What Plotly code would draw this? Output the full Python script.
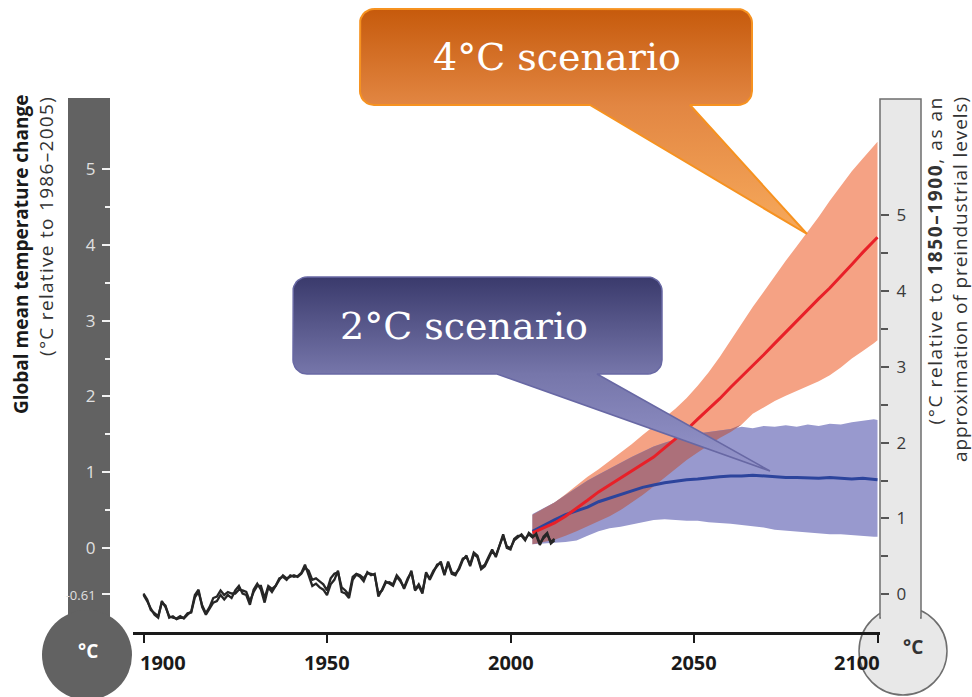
import numpy as np
import plotly.graph_objects as go

W, H = 972, 697

# ---------------- data ----------------
obs_years = list(range(1900, 2013))
obs_a = [-0.62, -0.70, -0.80, -0.88, -0.92, -0.70, -0.78, -0.90, -0.92, -0.93,
         -0.90, -0.93, -0.88, -0.84, -0.62, -0.55, -0.78, -0.88, -0.80, -0.72,
         -0.70, -0.62, -0.68, -0.62, -0.66, -0.56, -0.50, -0.60, -0.62, -0.75,
         -0.55, -0.47, -0.55, -0.72, -0.52, -0.58, -0.50, -0.40, -0.38, -0.42,
         -0.36, -0.38, -0.37, -0.33, -0.22, -0.35, -0.50, -0.47, -0.52, -0.55,
         -0.62, -0.48, -0.42, -0.30, -0.58, -0.60, -0.66, -0.42, -0.35, -0.38,
         -0.44, -0.32, -0.36, -0.34, -0.64, -0.55, -0.44, -0.47, -0.50, -0.38,
         -0.44, -0.52, -0.40, -0.32, -0.55, -0.48, -0.58, -0.34, -0.40, -0.30,
         -0.24, -0.18, -0.34, -0.20, -0.34, -0.36, -0.26, -0.14, -0.12, -0.22,
         -0.06, -0.10, -0.26, -0.22, -0.12, -0.02, -0.12, 0.04, 0.18, 0.00,
         -0.02, 0.12, 0.16, 0.16, 0.10, 0.20, 0.16, 0.17, 0.04, 0.15,
         0.20, 0.06, 0.10]
obs_b = [-0.60, -0.68, -0.82, -0.86, -0.90, -0.72, -0.76, -0.92, -0.90, -0.94,
         -0.92, -0.92, -0.86, -0.85, -0.65, -0.58, -0.76, -0.86, -0.78, -0.66,
         -0.64, -0.56, -0.62, -0.58, -0.60, -0.60, -0.55, -0.56, -0.58, -0.70,
         -0.58, -0.50, -0.50, -0.66, -0.50, -0.54, -0.50, -0.42, -0.36, -0.40,
         -0.38, -0.36, -0.38, -0.34, -0.26, -0.30, -0.42, -0.40, -0.44, -0.48,
         -0.56, -0.40, -0.34, -0.32, -0.52, -0.56, -0.62, -0.38, -0.34, -0.36,
         -0.40, -0.33, -0.34, -0.36, -0.60, -0.56, -0.46, -0.45, -0.48, -0.36,
         -0.42, -0.54, -0.42, -0.30, -0.56, -0.50, -0.60, -0.32, -0.42, -0.32,
         -0.22, -0.20, -0.36, -0.18, -0.32, -0.34, -0.28, -0.16, -0.10, -0.24,
         -0.08, -0.12, -0.28, -0.24, -0.14, -0.04, -0.10, 0.02, 0.16, 0.02,
         0.00, 0.10, 0.14, 0.18, 0.12, 0.18, 0.14, 0.19, 0.06, 0.13,
         0.18, 0.08, 0.12]

proj_years = [2006, 2009, 2012, 2015, 2018, 2021, 2024, 2027, 2030, 2033, 2036,
              2039, 2042, 2045, 2048, 2051, 2054, 2057, 2060, 2063, 2066, 2069,
              2072, 2075, 2078, 2081, 2084, 2087, 2090, 2093, 2096, 2099, 2100]

rcp85_mean = [0.20, 0.27, 0.33, 0.42, 0.52, 0.63, 0.74, 0.83, 0.92, 1.01, 1.10,
              1.20, 1.32, 1.44, 1.56, 1.70, 1.83, 1.97, 2.12, 2.26, 2.40, 2.55,
              2.70, 2.85, 3.00, 3.14, 3.29, 3.43, 3.58, 3.74, 3.90, 4.06, 4.10]
rcp85_high = [0.44, 0.52, 0.60, 0.71, 0.83, 0.94, 1.04, 1.15, 1.25, 1.37, 1.49,
              1.60, 1.72, 1.84, 1.98, 2.14, 2.32, 2.52, 2.74, 2.96, 3.18, 3.38,
              3.59, 3.79, 3.98, 4.17, 4.37, 4.58, 4.77, 4.97, 5.14, 5.30, 5.36]
rcp85_low = [0.05, 0.08, 0.11, 0.16, 0.22, 0.28, 0.35, 0.42, 0.50, 0.60, 0.70,
             0.81, 0.92, 1.04, 1.16, 1.26, 1.36, 1.45, 1.53, 1.63, 1.77, 1.86,
             1.94, 2.01, 2.08, 2.14, 2.20, 2.28, 2.38, 2.50, 2.60, 2.70, 2.74]

rcp26_mean = [0.22, 0.30, 0.37, 0.44, 0.49, 0.54, 0.61, 0.66, 0.71, 0.75, 0.80,
              0.83, 0.86, 0.88, 0.90, 0.91, 0.93, 0.94, 0.95, 0.95, 0.96, 0.95,
              0.94, 0.93, 0.93, 0.92, 0.92, 0.93, 0.92, 0.91, 0.92, 0.91, 0.90]
rcp26_high = [0.45, 0.53, 0.60, 0.70, 0.80, 0.89, 0.97, 1.05, 1.12, 1.20, 1.27,
              1.34, 1.39, 1.44, 1.48, 1.51, 1.53, 1.55, 1.57, 1.60, 1.58, 1.61,
              1.60, 1.62, 1.60, 1.63, 1.61, 1.64, 1.63, 1.66, 1.68, 1.70, 1.69]
rcp26_low = [0.05, 0.06, 0.07, 0.08, 0.10, 0.16, 0.22, 0.26, 0.28, 0.31, 0.34,
             0.37, 0.38, 0.37, 0.36, 0.36, 0.34, 0.33, 0.32, 0.30, 0.29, 0.27,
             0.24, 0.22, 0.21, 0.20, 0.19, 0.18, 0.18, 0.17, 0.16, 0.15, 0.15]

x_ticks = [1900, 1950, 2000, 2050, 2100]
left_ticks = [5, 4, 3, 2, 1, 0, -0.61]
left_minor = [4.5, 3.5, 2.5, 1.5, 0.5]
right_ticks = [0, 1, 2, 3, 4, 5]
right_minor = [0.5, 1.5, 2.5, 3.5, 4.5]
preind_offset = 0.61

# ---------------- layout geometry (pixels) ----------------
PX0, PX1 = 133, 880          # plot area left/right
PY_TOP, PY_BOT = 97, 632     # plot area top/bottom
px_per_year = 3.67
x1900 = 143.5
px_per_deg = 75.8
y_zero = 548

x_range = [1900 - (x1900 - PX0) / px_per_year, 1900 + (PX1 - x1900) / px_per_year]
y_range = [(y_zero - PY_BOT) / px_per_deg, (y_zero - PY_TOP) / px_per_deg]


def fx(px):
    return px / W


def fy(py):
    return 1 - py / H


fig = go.Figure()

# ---------------- projection bands ----------------
py = np.array(proj_years, dtype=float)
r_hi, r_lo = np.array(rcp85_high), np.array(rcp85_low)
b_hi, b_lo = np.array(rcp26_high), np.array(rcp26_low)

fig.add_trace(go.Scatter(x=list(py) + list(py[::-1]), y=list(r_hi) + list(r_lo[::-1]),
                         fill='toself', fillcolor='rgb(245,162,132)', line=dict(width=0),
                         mode='lines', hoverinfo='skip', showlegend=False))
fig.add_trace(go.Scatter(x=list(py) + list(py[::-1]), y=list(b_hi) + list(b_lo[::-1]),
                         fill='toself', fillcolor='rgb(152,153,206)', line=dict(width=0),
                         mode='lines', hoverinfo='skip', showlegend=False))
ov_top = np.minimum(r_hi, b_hi)
ov_bot = np.maximum(r_lo, b_lo)
valid = ov_top > ov_bot
last = int(np.where(valid)[0].max()) + 1
ox = py[:last + 1]
ot = np.where(valid, ov_top, ov_bot)[:last + 1]
ob = ov_bot[:last + 1]
fig.add_trace(go.Scatter(x=list(ox) + list(ox[::-1]), y=list(ot) + list(ob[::-1]),
                         fill='toself', fillcolor='rgb(172,112,122)', line=dict(width=0),
                         mode='lines', hoverinfo='skip', showlegend=False))

fig.add_trace(go.Scatter(x=proj_years, y=rcp26_mean, mode='lines',
                         line=dict(color='rgb(44,68,156)', width=3), showlegend=False))
fig.add_trace(go.Scatter(x=proj_years, y=rcp85_mean, mode='lines',
                         line=dict(color='rgb(232,32,40)', width=3), showlegend=False))

# observed
fig.add_trace(go.Scatter(x=obs_years, y=obs_b, mode='lines',
                         line=dict(color='#262626', width=2.3), showlegend=False))
fig.add_trace(go.Scatter(x=obs_years, y=obs_a, mode='lines',
                         line=dict(color='#262626', width=2.3), showlegend=False))

# dummy trace for right axis
fig.add_trace(go.Scatter(x=[None], y=[None], yaxis='y2', showlegend=False))

# ---------------- callouts (pixel overlay axes) ----------------
def arc(cx, cy, r, a0, a1, n=10):
    a = np.linspace(np.radians(a0), np.radians(a1), n)
    return list(cx + r * np.cos(a)), list(cy + r * np.sin(a))


def callout(x0, y0, x1, y1, r, bx0, bx1, tx, ty):
    xs, ys = [], []
    ax, ay = arc(x1 - r, y0 + r, r, -90, 0)
    xs += [x0 + r] + ax; ys += [y0] + ay
    ax, ay = arc(x1 - r, y1 - r, r, 0, 90)
    xs += ax; ys += ay
    xs += [bx1, tx, bx0]; ys += [y1, ty, y1]
    ax, ay = arc(x0 + r, y1 - r, r, 90, 180)
    xs += ax; ys += ay
    ax, ay = arc(x0 + r, y0 + r, r, 180, 270)
    xs += ax; ys += ay
    xs.append(xs[0]); ys.append(ys[0])
    return xs, [H - v for v in ys]


ox_, oy_ = callout(360, 9, 752, 105, 14, 590, 690, 807, 234)
box_frac = (234 - 105) / (234 - 9)
fig.add_trace(go.Scatter(x=ox_, y=oy_, xaxis='x3', yaxis='y3', mode='lines',
                         fill='toself', line=dict(color='rgb(246,146,32)', width=2),
                         fillgradient=dict(type='vertical',
                                           colorscale=[[0, 'rgb(247,170,92)'],
                                                       [box_frac, 'rgb(226,134,66)'],
                                                       [1, 'rgb(198,90,12)']]),
                         hoverinfo='skip', showlegend=False))
bx_, by_ = callout(293, 277, 662, 374, 14, 497, 597, 770, 471)
box_frac2 = (471 - 374) / (471 - 277)
fig.add_trace(go.Scatter(x=bx_, y=by_, xaxis='x3', yaxis='y3', mode='lines',
                         fill='toself', line=dict(color='rgb(104,104,164)', width=1.5),
                         fillgradient=dict(type='vertical',
                                           colorscale=[[0, 'rgb(150,150,204)'],
                                                       [box_frac2, 'rgb(118,118,170)'],
                                                       [1, 'rgb(58,58,108)']]),
                         hoverinfo='skip', showlegend=False))

# ---------------- thermometer shapes ----------------
shapes = []
shapes.append(dict(type='rect', xref='paper', yref='paper', layer='below',
                   x0=fx(68), x1=fx(110), y0=fy(640), y1=fy(98),
                   fillcolor='rgb(98,98,98)', line=dict(width=0)))
shapes.append(dict(type='circle', xref='paper', yref='paper', layer='below',
                   x0=fx(87 - 45), x1=fx(87 + 45), y0=fy(655 + 45), y1=fy(655 - 45),
                   fillcolor='rgb(98,98,98)', line=dict(width=0)))
shapes.append(dict(type='circle', xref='paper', yref='paper', layer='below',
                   x0=fx(903 - 44), x1=fx(903 + 44), y0=fy(651 + 44), y1=fy(651 - 44),
                   fillcolor='rgb(232,232,232)', line=dict(color='rgb(110,110,110)', width=1.5)))
shapes.append(dict(type='rect', xref='paper', yref='paper', layer='below',
                   x0=fx(880), x1=fx(921), y0=fy(618), y1=fy(99),
                   fillcolor='rgb(232,232,232)', line=dict(color='rgb(110,110,110)', width=1.5)))
shapes.append(dict(type='rect', xref='paper', yref='paper', layer='below',
                   x0=fx(881), x1=fx(920), y0=fy(622), y1=fy(600),
                   fillcolor='rgb(232,232,232)', line=dict(width=0)))

# ---------------- annotations ----------------
ann = []
ann.append(dict(text='<b>Global mean temperature change</b>', xref='paper', yref='paper',
                x=fx(21), y=fy(92), xanchor='center', yanchor='top', textangle=-90,
                showarrow=False, font=dict(family='Open Sans', size=19, color='#1a1a1a')))
ann.append(dict(text='<span style="letter-spacing:1.3px">(°C relative to 1986–2005)</span>',
                xref='paper', yref='paper',
                x=fx(46), y=fy(94), xanchor='center', yanchor='top', textangle=-90,
                showarrow=False, font=dict(family='Open Sans', size=19, color='#333333')))
ann.append(dict(text='<span style="letter-spacing:1.6px">(°C relative to <b>1850–1900</b>, as an</span>'
                     '<br><span style="letter-spacing:0.9px">approximation of preindustrial levels)</span>',
                xref='paper', yref='paper', x=fx(947), y=fy(94), xanchor='center', yanchor='top',
                textangle=-90, align='right', showarrow=False,
                font=dict(family='Open Sans', size=19, color='#333333')))
ann.append(dict(text='<b>°C</b>', xref='paper', yref='paper', x=fx(88), y=fy(651),
                xanchor='center', yanchor='middle', showarrow=False,
                font=dict(family='Open Sans', size=19, color='white')))
ann.append(dict(text='<b>°C</b>', xref='paper', yref='paper', x=fx(913), y=fy(647),
                xanchor='center', yanchor='middle', showarrow=False,
                font=dict(family='Open Sans', size=19, color='#333333')))
ann.append(dict(text='4°C scenario', xref='paper', yref='paper', x=fx(557), y=fy(57),
                xanchor='center', yanchor='middle', showarrow=False,
                font=dict(family='DejaVu Serif', size=38, color='white')))
ann.append(dict(text='2°C scenario', xref='paper', yref='paper', x=fx(464), y=fy(326),
                xanchor='center', yanchor='middle', showarrow=False,
                font=dict(family='DejaVu Serif', size=38, color='white')))
nudge = {1900: 19, 2100: -21}
for t in x_ticks:
    ann.append(dict(text='<b>%d</b>' % t, xref='x', yref='paper', x=t, y=fy(647),
                    xanchor='center', yanchor='top', xshift=nudge.get(t, 0), showarrow=False,
                    font=dict(family='Open Sans', size=20, color='#1a1a1a')))

left_text = [str(v) if v != -0.61 else '<span style="font-size:13px">-0.61</span>' for v in left_ticks]

fig.update_layout(
    width=W, height=H, autosize=False,
    margin=dict(l=0, r=0, t=0, b=0, pad=0),
    paper_bgcolor='white', plot_bgcolor='rgba(0,0,0,0)',
    showlegend=False,
    xaxis=dict(domain=[fx(PX0), fx(PX1)], range=x_range, anchor='y',
               showgrid=False, zeroline=False, showline=True, linecolor='#1a1a1a', linewidth=2.5,
               ticks='outside', ticklen=8, tickwidth=2, tickcolor='#1a1a1a',
               tickvals=x_ticks, showticklabels=False),
    yaxis=dict(domain=[fy(PY_BOT), fy(PY_TOP)], range=y_range, anchor='free', position=fx(110),
               showgrid=False, zeroline=False, showline=False,
               ticks='outside', ticklen=8, tickwidth=2, tickcolor='#f2f2f2',
               tickvals=left_ticks, ticktext=left_text, ticklabelstandoff=3,
               tickfont=dict(family='Open Sans', size=17, color='#e0e0e0'),
               minor=dict(tickvals=left_minor, ticks='outside', ticklen=5, tickwidth=2,
                          tickcolor='#f2f2f2')),
    yaxis2=dict(overlaying='y', side='right', anchor='free', position=fx(880),
                range=[y_range[0] + preind_offset, y_range[1] + preind_offset],
                showgrid=False, zeroline=False, showline=False,
                ticks='outside', ticklen=8, tickwidth=2, tickcolor='#555555',
                tickvals=right_ticks, ticklabelstandoff=4,
                tickfont=dict(family='Open Sans', size=17, color='#3a3a3a'),
                minor=dict(tickvals=right_minor, ticks='outside', ticklen=7, tickwidth=2,
                           tickcolor='#555555')),
    xaxis3=dict(domain=[0, 1], range=[0, W], anchor='y3', visible=False, fixedrange=True),
    yaxis3=dict(domain=[0, 1], range=[0, H], anchor='x3', visible=False, fixedrange=True),
    shapes=shapes,
    annotations=ann,
)

fig.write_html("out.html")
